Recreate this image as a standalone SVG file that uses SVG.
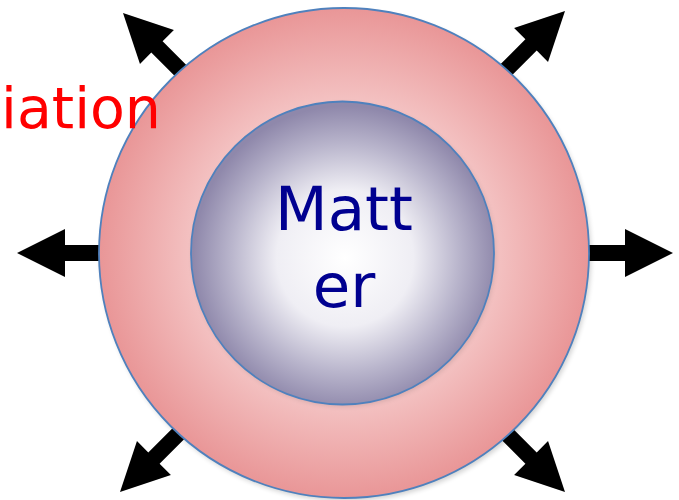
<svg xmlns="http://www.w3.org/2000/svg" width="679" height="500" viewBox="0 0 679 500">
  <defs>
    <radialGradient id="ringGrad" cx="344" cy="253" r="245" gradientUnits="userSpaceOnUse">
      <stop offset="0" stop-color="#fbe3e3"/>
      <stop offset="0.6" stop-color="#f4c4c4"/>
      <stop offset="1" stop-color="#e99697"/>
    </radialGradient>
    <radialGradient id="coreGrad" cx="345" cy="258" r="152" gradientUnits="userSpaceOnUse">
      <stop offset="0" stop-color="#ffffff"/>
      <stop offset="0.45" stop-color="#efeef4"/>
      <stop offset="0.75" stop-color="#b9b5cc"/>
      <stop offset="1" stop-color="#8f88ab"/>
    </radialGradient>
    <filter id="shadow" x="-10%" y="-10%" width="120%" height="120%">
      <feGaussianBlur stdDeviation="2.5"/>
    </filter>
    <polygon id="arrow" points="0,0 -48,-24 -48,-8 -95,-8 -95,8 -48,8 -48,24"/>
  </defs>
  <style>
    .arrow { fill: #000000; }
    .ring { fill: url(#ringGrad); stroke: #4f81bd; stroke-width: 1.8; }
    .core { fill: url(#coreGrad); stroke: #4f81bd; stroke-width: 1.8; }
    .lbl { font-family: "DejaVu Sans", Verdana, sans-serif; }
  </style>

  <g id="connectors">
    <use href="#arrow" class="arrow" transform="translate(17,253) rotate(180)"/>
    <use href="#arrow" class="arrow" transform="translate(673,253)"/>
    <use href="#arrow" class="arrow" transform="translate(123,13) rotate(-135)"/>
    <use href="#arrow" class="arrow" transform="translate(565,11) rotate(-45)"/>
    <use href="#arrow" class="arrow" transform="translate(120,492) rotate(135)"/>
    <use href="#arrow" class="arrow" transform="translate(565,492) rotate(45)"/>
  </g>

  <g id="radiation">
    <circle cx="346" cy="256" r="245" fill="#000" opacity="0.18" filter="url(#shadow)"/>
    <circle class="ring" cx="344" cy="253" r="245"/>
    <text class="lbl" x="161" y="128" font-size="57" fill="#ff0000" text-anchor="end">iation</text>
  </g>

  <g id="matter">
    <circle cx="344" cy="255" r="151.5" fill="#000" opacity="0.12" filter="url(#shadow)"/>
    <circle class="core" cx="342.5" cy="253" r="151.5"/>
    <text class="lbl" x="344" y="230" font-size="61" fill="#000090" text-anchor="middle">Matt</text>
    <text class="lbl" x="344" y="307" font-size="61" fill="#000090" text-anchor="middle">er</text>
  </g>
</svg>
